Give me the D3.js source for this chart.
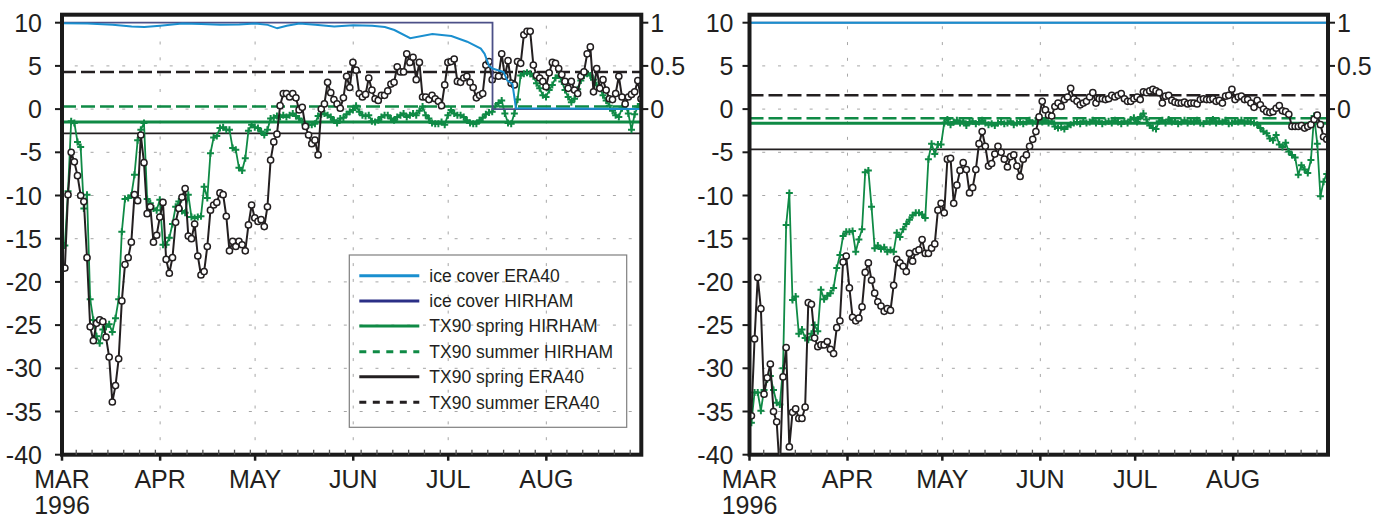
<!DOCTYPE html>
<meta charset="utf-8">
<script src="https://cdn.jsdelivr.net/npm/d3@7"></script>
<style>
  body { margin: 0; background: #fff; }
  .ax text { font-family: "Liberation Sans Narrow", "Arial Narrow", "Liberation Sans", Arial, sans-serif; font-size: 25px; fill: #231f20; }
  .leg text { font-family: "Liberation Sans", Arial, sans-serif; font-size: 17.5px; fill: #231f20; }
</style>
<svg id="chart" width="1386" height="521"></svg>
<script>

// daily values, 1 March 1996 onward (index = day)
var leftEra = [
  -18.4, -9.9, -5.0, -6.1, -7.7, -10.0, -10.7, -17.2, -25.2, -26.8,
  -24.8, -24.4, -24.6, -26.4, -28.7, -33.9, -32.0, -28.9, -22.2, -18.0,
  -17.2, -15.4, -9.9, -10.6, -3.0, -6.2, -12.1, -11.3, -15.4, -14.6,
  -12.5, -10.8, -17.4, -19.0, -17.2, -13.1, -11.5, -10.2, -9.2, -14.7,
  -15.0, -13.3, -17.0, -19.2, -18.8, -15.9, -11.7, -11.1, -10.8, -9.7,
  -9.9, -12.4, -16.4, -15.3, -15.9, -15.3, -15.7, -16.4, -13.4, -11.1,
  -12.6, -13.0, -12.8, -13.6, -11.3, -5.9, -3.8, -2.9, 0.4, 1.8,
  1.8, 1.4, 1.8, 1.3, -0.1, 0.2, -2.0, -3.0, -4.0, -3.6,
  -5.3, 0.0, 0.6, 3.1, 1.9, 1.1, 0.6, 0.1, 1.3, 3.8,
  2.5, 5.4, 4.5, 1.8, 1.4, 1.7, 3.6, 2.2, 1.2, 1.0,
  1.6, 1.6, 2.1, 2.9, 3.1, 4.9, 4.3, 4.3, 6.4, 5.4,
  6.0, 3.4, 5.4, 1.4, 1.4, 1.1, 1.6, 1.2, 0.9, 0.4,
  2.8, 5.4, 5.5, 5.8, 3.2, 3.1, 3.6, 3.8, 3.1, 2.5,
  1.3, 1.6, 1.8, 5.1, 5.5, 3.4, 3.9, 3.8, 6.4, 3.8,
  5.6, 3.0, 2.8, 5.5, 5.3, 8.6, 9.0, 9.0, 5.1, 3.9,
  3.6, 3.2, 2.6, 4.2, 5.4, 5.3, 4.7, 4.0, 3.2, 2.4,
  3.2, 2.2, 1.8, 3.8, 4.3, 6.4, 7.2, 2.0, 4.7, 2.4,
  3.4, 2.2, 1.2, 1.1, 1.8, 3.8, 1.4, 0.6, 1.4, 1.7,
  2.0, 3.3, 1.2
];
var leftHir = [
  -15.8, -9.5, -1.4, -1.6, -3.8, -4.4, -11.5, -9.9, -22.0, -24.4,
  -26.3, -27.1, -25.5, -25.2, -24.9, -25.8, -24.2, -22.0, -14.2, -10.4,
  -10.3, -10.0, -7.6, -3.6, -2.4, -1.6, -10.4, -10.9, -11.5, -11.7,
  -10.5, -15.7, -15.7, -14.9, -13.3, -11.3, -10.7, -11.8, -12.0, -9.9,
  -12.5, -12.6, -12.5, -12.4, -9.0, -10.3, -5.1, -3.3, -3.1, -2.2,
  -2.1, -2.4, -2.4, -4.5, -4.7, -6.8, -7.1, -5.7, -2.5, -1.8,
  -2.1, -2.2, -2.6, -3.0, -2.4, -1.1, -1.0, -0.8, -0.9, -0.7,
  -0.9, -0.7, -0.5, -0.8, -1.1, -1.5, -1.8, -1.8, -1.8, -1.7,
  -0.8, -0.6, -0.5, -0.7, -0.9, -1.3, -1.6, -1.1, -1.0, -0.6,
  -0.3, -0.1, 0.4, -0.3, -0.7, -0.8, -0.7, -1.4, -1.5, -1.3,
  -0.9, -0.7, -0.7, -1.1, -1.3, -0.9, -0.7, -0.5, -0.9, -0.7,
  -0.5, -0.7, -0.2, 0.3, -0.7, -1.1, -1.6, -1.7, -1.7, -1.5,
  -1.8, -0.7, -0.1, -0.5, -0.7, -0.7, -0.9, -1.3, -1.6, -1.7,
  -1.7, -1.3, -1.0, -0.6, -0.4, -0.3, 0.3, 0.7, 1.0, -0.5,
  -1.6, -1.7, -0.5, 1.1, 3.9, 4.1, 4.2, 4.1, 3.8, 3.0,
  2.4, 1.6, 1.4, 2.2, 2.8, 3.6, 3.9, 3.2, 2.2, 1.4,
  0.8, 1.2, 2.3, 3.3, 3.9, 4.1, 3.9, 3.4, 2.8, 2.4,
  1.6, 1.0, 0.4, -0.2, -0.7, -0.9, 0.1, 0.5, -0.5, -2.4,
  -0.6, 0.3, 0.6
];
var rightEra = [
  -35.5, -26.6, -19.5, -23.1, -33.0, -31.1, -29.5, -35.0, -36.2, -42.0,
  -31.0, -27.6, -39.1, -35.1, -34.7, -35.8, -35.8, -34.5, -22.4, -22.6,
  -26.5, -27.5, -27.3, -27.3, -26.9, -27.8, -28.3, -25.3, -24.5, -17.7,
  -17.0, -20.7, -24.1, -24.5, -24.2, -22.9, -18.9, -17.8, -19.8, -21.3,
  -22.3, -22.8, -23.4, -23.1, -23.3, -20.4, -17.4, -17.8, -18.2, -18.8,
  -16.7, -17.6, -16.5, -16.3, -15.1, -16.7, -16.7, -16.1, -15.6, -11.7,
  -10.9, -12.0, -5.8, -5.7, -10.9, -8.8, -7.1, -6.2, -7.0, -9.7,
  -9.1, -7.0, -4.0, -2.6, -4.3, -6.6, -6.3, -5.2, -4.3, -5.0,
  -5.8, -6.7, -5.5, -5.3, -6.6, -7.8, -5.8, -5.3, -4.3, -3.5,
  -2.6, -0.9, 0.9, -0.1, -0.7, -0.8, 0.3, 0.7, 0.3, 1.1,
  1.4, 2.4, 1.2, 0.9, 0.5, 0.7, 0.9, 1.4, 1.9, 0.7,
  1.2, 1.2, 1.1, 1.2, 1.6, 1.4, 1.6, 1.8, 1.2, 0.9,
  0.9, 1.2, 1.4, 1.1, 2.0, 1.9, 2.1, 2.3, 2.1, 1.9,
  0.7, 1.5, 1.6, 1.0, 0.8, 0.7, 0.7, 0.8, 0.6, 0.7,
  0.7, 0.6, 1.1, 1.2, 1.1, 1.1, 1.2, 0.9, 1.0, 0.7,
  1.5, 1.6, 2.3, 1.1, 1.4, 1.5, 1.1, 1.1, 0.7, 0.2,
  1.0, 0.5, 0.0, -0.3, -0.4, -0.3, 0.1, 0.4, -0.2, -0.3,
  -0.6, -2.0, -2.0, -2.0, -1.9, -2.2, -2.0, -1.8, -1.2, -0.7,
  -1.8, -3.2, -3.5
];
var rightHir = [
  -36.3, -32.8, -32.8, -34.9, -32.5, -31.3, -30.9, -32.5, -34.0, -34.2,
  -30.0, -13.4, -9.7, -22.1, -21.7, -26.0, -25.5, -26.5, -26.7, -26.0,
  -25.0, -25.7, -20.9, -22.0, -21.6, -21.3, -20.7, -18.4, -16.9, -14.7,
  -14.2, -14.2, -14.1, -16.5, -15.1, -13.9, -7.3, -7.1, -11.3, -16.1,
  -15.8, -16.2, -16.0, -16.5, -16.3, -16.5, -14.3, -14.8, -13.9, -13.3,
  -12.8, -12.3, -12.0, -12.0, -12.2, -12.6, -5.8, -4.0, -5.2, -4.1,
  -4.1, -1.6, -1.2, -1.8, -1.5, -1.3, -1.6, -1.4, -1.9, -1.5,
  -1.4, -1.7, -1.5, -1.3, -1.6, -1.8, -1.7, -1.9, -1.6, -1.5,
  -1.7, -1.6, -1.4, -1.8, -1.6, -1.5, -1.7, -1.5, -1.3, -1.6,
  -1.4, -1.2, -1.5, -1.3, -1.6, -1.4, -2.0, -2.2, -2.1, -2.3,
  -2.0, -1.8, -1.6, -1.5, -1.7, -1.4, -1.6, -1.5, -1.3, -1.6,
  -1.4, -1.7, -1.5, -1.4, -1.6, -1.3, -1.5, -1.7, -1.4, -1.6,
  -1.2, -1.0, -1.5, -0.9, -0.5, -1.2, -1.9, -2.2, -2.3, -1.4,
  -1.3, -1.6, -1.2, -1.5, -1.4, -1.7, -1.5, -1.3, -1.6, -1.4,
  -1.5, -1.3, -1.6, -1.7, -1.4, -1.5, -1.2, -1.6, -1.4, -1.5,
  -1.3, -1.7, -1.6, -1.4, -1.5, -1.3, -1.6, -1.4, -1.5, -1.6,
  -1.8, -2.2, -2.6, -2.8, -3.4, -3.6, -3.0, -4.1, -4.4, -3.9,
  -4.9, -5.3, -5.6, -7.6, -6.5, -7.0, -7.4, -5.9, -0.8, -4.0,
  -10.1, -8.4, -7.5
];

// ice cover (0..1, right axis): days since 1 March, fraction
var leftIceEraDays = [0, 8, 16, 22, 26, 31, 38, 44, 50, 56, 61, 65, 68, 71, 75, 80, 86, 92, 98, 102,
  105, 110, 117, 123, 128, 132.3, 133.5, 134.9, 136, 139.5, 140.7, 142.3, 143.4, 183];
var leftIceEra = [0.995, 0.99, 0.975, 0.955, 0.95, 0.965, 0.99, 0.985, 0.975, 0.98, 0.99, 0.975, 0.935, 0.965, 0.99, 0.975, 0.955, 0.97, 0.965, 0.95,
  0.915, 0.82, 0.87, 0.846, 0.78, 0.70, 0.64, 0.5, 0.47, 0.43, 0.33, 0.29, 0.01, 0];
var leftIceHirDays = [0, 136, 136, 183];
var leftIceHir = [1, 1, 0, 0];
var rightIceDays = [0, 183];
var rightIceEra = [1, 1];
var rightIceHir = [1, 1];

// TX90 thresholds: spring HIRHAM, summer HIRHAM, spring ERA40, summer ERA40
var leftThresholds = [-1.5, 0.3, -2.8, 4.3];
var rightThresholds = [-1.65, -1.05, -4.65, 1.6];

var yTicks = [-40, -35, -30, -25, -20, -15, -10, -5, 0, 5, 10];
var gridTicks = [-35, -30, -25, -20, -15, -10, -5, 0, 5];
var iceTicks = [0, 0.5, 1];
var iceTickLabels = ["0", "0.5", "1"];
var months = ["MAR", "APR", "MAY", "JUN", "JUL", "AUG"];
var legendLabels = ["ice cover ERA40", "ice cover HIRHAM", "TX90 spring HIRHAM",
  "TX90 summer HIRHAM", "TX90 spring ERA40", "TX90 summer ERA40"];

var green = "#0f8a45", black = "#231f20", iceBlue = "#1a8fcf", iceNavy = "#4c5088";
var start = new Date(Date.UTC(1996, 2, 1));
var end = new Date(Date.UTC(1996, 7, 31));
function dayDate(d) { return new Date(start.getTime() + d * 864e5); }
var monthDates = months.map(function (m, i) { return new Date(Date.UTC(1996, 2 + i, 1)); });

var svg = d3.select("#chart");
var plotTop = 14.7, plotBottom = 454.7;

function drawPanel(p) {
  var x = d3.scaleUtc().domain([start, end]).range([p.left, p.right]);
  var y = d3.scaleLinear().domain([-40, 10]).range([plotBottom, 22.7]);
  var yIce = d3.scaleLinear().domain([0, 1]).range([y(0), y(10)]);
  var g = svg.append("g");

  g.append("clipPath").attr("id", p.id)
    .append("rect")
    .attr("x", p.left).attr("y", plotTop)
    .attr("width", p.right - p.left).attr("height", plotBottom - plotTop);

  // grid: short dashes every 5 days
  var period = x(dayDate(5)) - x(start);
  var phase = x(dayDate(4.5)) - x(start) - 1.5;
  g.selectAll(".hgrid").data(gridTicks).enter().append("line")
    .attr("x1", p.left).attr("x2", p.right)
    .attr("y1", function (d) { return y(d); }).attr("y2", function (d) { return y(d); })
    .attr("stroke", "#a6a6a6").attr("stroke-width", 1)
    .attr("stroke-dasharray", "3," + (period - 3))
    .attr("stroke-dashoffset", period - phase);
  g.selectAll(".vgrid").data(monthDates.slice(1)).enter().append("line")
    .attr("x1", function (d) { return x(d); }).attr("x2", function (d) { return x(d); })
    .attr("y1", plotBottom).attr("y2", plotTop)
    .attr("stroke", "#a6a6a6").attr("stroke-width", 1)
    .attr("stroke-dasharray", "3," + (period - 3))
    .attr("stroke-dashoffset", period - 14.5);

  // threshold lines
  var thStyle = [
    { c: green, w: 3, dash: null },
    { c: green, w: 2.5, dash: "14,5" },
    { c: black, w: 1.8, dash: null },
    { c: black, w: 2.6, dash: "14,5" }
  ];
  p.thresholds.forEach(function (v, i) {
    g.append("line")
      .attr("x1", p.left).attr("x2", p.right)
      .attr("y1", y(v)).attr("y2", y(v))
      .attr("stroke", thStyle[i].c).attr("stroke-width", thStyle[i].w)
      .attr("stroke-dasharray", thStyle[i].dash);
  });

  var data = g.append("g").attr("clip-path", "url(#" + p.id + ")");
  var line = d3.line()
    .x(function (d, i) { return x(dayDate(i + p.offset)); })
    .y(function (d) { return y(d); });

  // HIRHAM daily
  data.append("path").datum(p.hir)
    .attr("fill", "none").attr("stroke", green).attr("stroke-width", 1.8)
    .attr("d", line);
  data.selectAll(".plus").data(p.hir).enter().append("path")
    .attr("transform", function (d, i) { return "translate(" + x(dayDate(i + p.offset)) + "," + y(d) + ")"; })
    .attr("d", "M-3.5,0H3.5M0,-3.5V3.5")
    .attr("stroke", green).attr("stroke-width", 2);

  // ERA40 daily
  data.append("path").datum(p.era)
    .attr("fill", "none").attr("stroke", black).attr("stroke-width", 2)
    .attr("d", line);
  data.selectAll(".dot").data(p.era).enter().append("circle")
    .attr("cx", function (d, i) { return x(dayDate(i + p.offset)); })
    .attr("cy", function (d) { return y(d); })
    .attr("r", 3.1)
    .attr("fill", "#fff").attr("stroke", black).attr("stroke-width", 1.5);

  // ice cover
  var iceLine = function (days) {
    return d3.line()
      .x(function (d, i) { return x(dayDate(days[i])); })
      .y(function (d) { return yIce(d); });
  };
  data.append("path").datum(p.iceHir)
    .attr("fill", "none").attr("stroke", iceNavy).attr("stroke-width", 1.8)
    .attr("d", iceLine(p.iceHirDays));
  data.append("path").datum(p.iceEra)
    .attr("fill", "none").attr("stroke", iceBlue).attr("stroke-width", 2)
    .attr("d", iceLine(p.iceEraDays));

  // frame
  g.append("rect")
    .attr("x", p.left).attr("y", plotTop)
    .attr("width", p.right - p.left).attr("height", plotBottom - plotTop)
    .attr("fill", "none").attr("stroke", "#1a1a1a").attr("stroke-width", 4);

  var ax = g.append("g").attr("class", "ax");
  // left axis
  ax.selectAll(".yt").data(yTicks).enter().append("line")
    .attr("x1", p.left - 7).attr("x2", p.left)
    .attr("y1", function (d) { return y(d); }).attr("y2", function (d) { return y(d); })
    .attr("stroke", "#1a1a1a").attr("stroke-width", 2);
  ax.selectAll(".yl").data(yTicks).enter().append("text")
    .attr("x", p.left - p.labelGap).attr("y", function (d) { return y(d); })
    .attr("dy", "0.36em").attr("text-anchor", "end")
    .text(function (d) { return d; });
  // right axis (ice fraction)
  ax.selectAll(".it").data(iceTicks).enter().append("line")
    .attr("x1", p.right).attr("x2", p.right + 7)
    .attr("y1", function (d) { return yIce(d); }).attr("y2", function (d) { return yIce(d); })
    .attr("stroke", "#1a1a1a").attr("stroke-width", 2);
  ax.selectAll(".il").data(iceTicks).enter().append("text")
    .attr("x", p.right + 9).attr("y", function (d) { return yIce(d); })
    .attr("dy", "0.36em").attr("text-anchor", "start")
    .text(function (d, i) { return iceTickLabels[i]; });
  // bottom axis
  var minor = d3.range(4.5, 183, 5);
  ax.selectAll(".mt").data(minor).enter().append("line")
    .attr("x1", function (d) { return x(dayDate(d)); }).attr("x2", function (d) { return x(dayDate(d)); })
    .attr("y1", plotBottom).attr("y2", plotBottom - 5)
    .attr("stroke", "#555").attr("stroke-width", 1.3);
  ax.selectAll(".xt").data(monthDates).enter().append("line")
    .attr("x1", function (d) { return x(d); }).attr("x2", function (d) { return x(d); })
    .attr("y1", plotBottom).attr("y2", plotBottom + 6)
    .attr("stroke", "#1a1a1a").attr("stroke-width", 2.5);
  ax.selectAll(".xl").data(monthDates).enter().append("text")
    .attr("x", function (d) { return x(d); }).attr("y", 488)
    .attr("text-anchor", "middle")
    .text(function (d, i) { return months[i]; });
  ax.append("text")
    .attr("x", x(start)).attr("y", 514)
    .attr("text-anchor", "middle")
    .text("1996");
}

drawPanel({
  id: "clipL", left: 62, right: 641.3, labelGap: 20, offset: 0.9,
  era: leftEra, hir: leftHir, thresholds: leftThresholds,
  iceEraDays: leftIceEraDays, iceEra: leftIceEra,
  iceHirDays: leftIceHirDays, iceHir: leftIceHir
});
drawPanel({
  id: "clipR", left: 749.5, right: 1328, labelGap: 16, offset: 0.6,
  era: rightEra, hir: rightHir, thresholds: rightThresholds,
  iceEraDays: rightIceDays, iceEra: rightIceEra,
  iceHirDays: rightIceDays, iceHir: rightIceHir
});

// legend (left panel)
var legStyle = [
  { c: iceBlue, dash: null }, { c: "#2b2f86", dash: null }, { c: green, dash: null },
  { c: green, dash: "7,6.5" }, { c: black, dash: null }, { c: black, dash: "7,6.5" }
];
var legRows = [275.7, 301, 326, 351.7, 376.7, 402.3];
var leg = svg.append("g").attr("class", "leg");
leg.append("rect")
  .attr("x", 349.3).attr("y", 255).attr("width", 277.4).attr("height", 172.3)
  .attr("fill", "none").attr("stroke", "#7f7f7f").attr("stroke-width", 1.2);
legendLabels.forEach(function (t, i) {
  leg.append("line")
    .attr("x1", 359.3).attr("x2", 419.3)
    .attr("y1", legRows[i]).attr("y2", legRows[i])
    .attr("stroke", legStyle[i].c).attr("stroke-width", 3)
    .attr("stroke-dasharray", legStyle[i].dash);
  leg.append("text")
    .attr("x", 429.3).attr("y", legRows[i]).attr("dy", "0.36em")
    .text(t);
});
</script>
